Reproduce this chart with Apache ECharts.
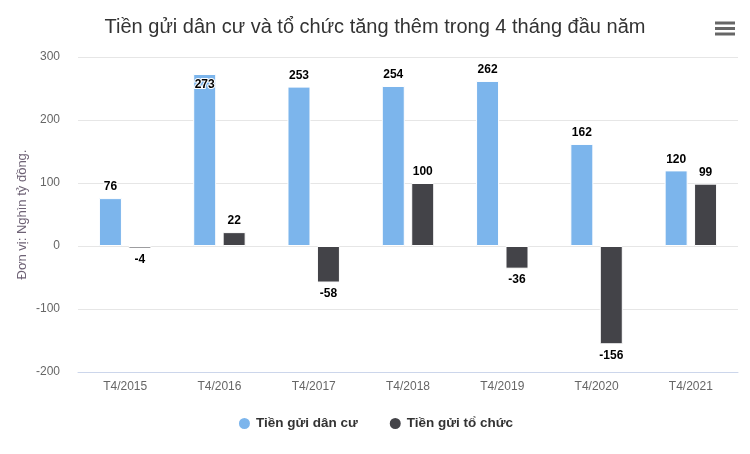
<!DOCTYPE html>
<html>
<head>
<meta charset="utf-8">
<script src="https://cdn.jsdelivr.net/npm/echarts@6/dist/echarts.min.js"></script>
<style>
  html, body { margin: 0; padding: 0; background: #fff; }
  #chart { width: 750px; height: 454px; }
</style>
</head>
<body>
<div id="chart"></div>
<script>
var categories = ['T4/2015', 'T4/2016', 'T4/2017', 'T4/2018', 'T4/2019', 'T4/2020', 'T4/2021'];
var danCu = [76, 273, 253, 254, 262, 162, 120];
var toChuc = [-4, 22, -58, 100, -36, -156, 99];
var yTicks = [-200, -100, 0, 100, 200, 300];

var chart = echarts.init(document.getElementById('chart'));

var labelBase = {
  show: true,
  color: '#000',
  fontSize: 12,
  fontWeight: 'bold',
  fontFamily: 'Liberation Sans, Arial, sans-serif',
  textBorderColor: '#fff',
  textBorderWidth: 2,
  distance: 5
};

// label above for positive, below for negative; the tall 273 bar shows it inside
function toItems(arr, insideIdx) {
  return arr.map(function (v, i) {
    var pos = v < 0 ? 'bottom' : 'top';
    if (i === insideIdx) pos = 'insideTop';
    return { value: v, label: { position: pos } };
  });
}

var option = {
  backgroundColor: '#fff',
  animation: false,
  textStyle: { fontFamily: 'Liberation Sans, Arial, sans-serif' },
  title: {
    text: 'Tiền gửi dân cư và tổ chức tăng thêm trong 4 tháng đầu năm',
    left: 'center',
    top: 12,
    textStyle: {
      color: '#333',
      fontSize: 20,
      fontWeight: 'normal',
      fontFamily: 'Liberation Sans, Arial, sans-serif'
    }
  },
  graphic: [
    { type: 'rect', shape: { x: 715, y: 21.5, width: 20, height: 3 }, style: { fill: '#666' } },
    { type: 'rect', shape: { x: 715, y: 27, width: 20, height: 3 }, style: { fill: '#666' } },
    { type: 'rect', shape: { x: 715, y: 32.5, width: 20, height: 3 }, style: { fill: '#666' } }
  ],
  legend: {
    top: 411,
    left: 'center',
    itemGap: 30,
    itemWidth: 13,
    itemHeight: 13,
    icon: 'circle',
    textStyle: { color: '#333', fontSize: 13.5, fontWeight: 'bold' },
    data: ['Tiền gửi dân cư', 'Tiền gửi tổ chức']
  },
  grid: { left: 78, right: 12, top: 57, bottom: 82 },
  xAxis: {
    type: 'category',
    data: categories,
    axisLine: { onZero: false, lineStyle: { color: '#ccd6eb' } },
    axisTick: { show: false },
    axisLabel: { color: '#666', fontSize: 12, margin: 9 }
  },
  yAxis: {
    type: 'value',
    min: yTicks[0],
    max: yTicks[yTicks.length - 1],
    interval: 100,
    name: 'Đơn vị: Nghìn tỷ đồng.',
    nameLocation: 'middle',
    nameGap: 49,
    nameMoveOverlap: false,
    nameTextStyle: { color: '#6e6275', fontSize: 13 },
    axisLine: { show: false },
    axisTick: { show: false },
    axisLabel: { color: '#666', fontSize: 12, margin: 18 },
    splitLine: { lineStyle: { color: '#e6e6e6' } }
  },
  series: [
    {
      name: 'Tiền gửi dân cư',
      type: 'bar',
      barWidth: 23,
      barGap: '28%',
      itemStyle: { color: '#7cb5ec', borderColor: '#fff', borderWidth: 1 },
      label: labelBase,
      data: toItems(danCu, 1)
    },
    {
      name: 'Tiền gửi tổ chức',
      type: 'bar',
      barWidth: 23,
      itemStyle: { color: '#434348', borderColor: '#fff', borderWidth: 1 },
      label: labelBase,
      data: toItems(toChuc, -1)
    }
  ]
};

chart.setOption(option);
</script>
</body>
</html>
